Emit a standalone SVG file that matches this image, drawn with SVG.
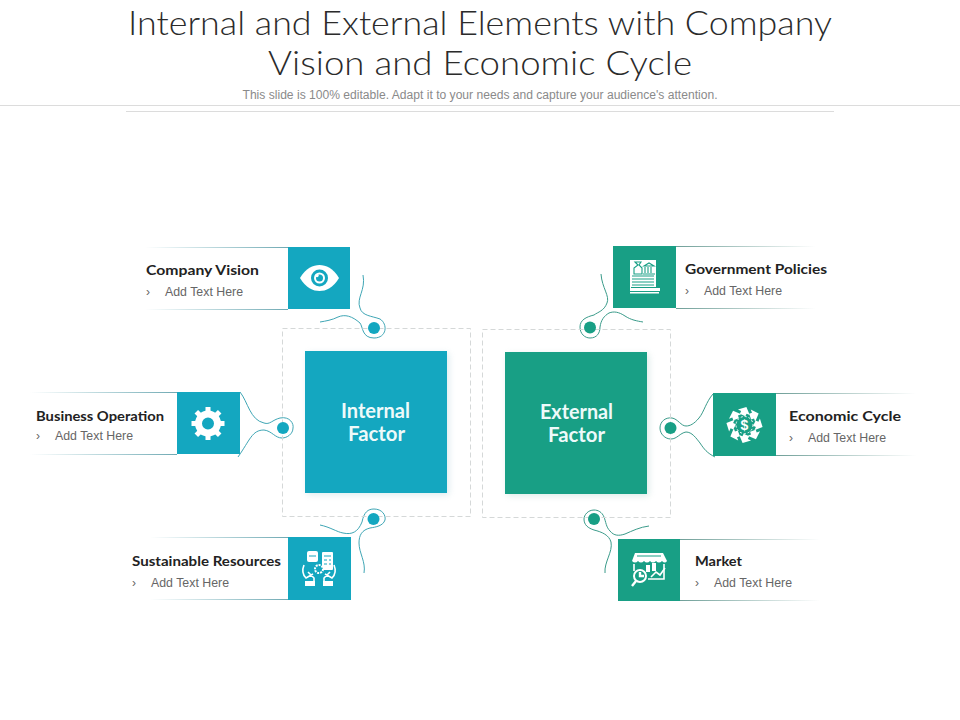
<svg xmlns="http://www.w3.org/2000/svg" width="960" height="720" viewBox="0 0 960 720">
<style>
.title{font-family:"Lato","Liberation Sans",sans-serif;font-weight:300;font-size:34px;fill:#2b2b2b;text-anchor:middle}
.sub{font-family:"Liberation Sans",Arial,sans-serif;font-size:12px;fill:#8a8a8a;text-anchor:middle}
.head{font-family:"Lato","Liberation Sans",sans-serif;font-weight:700;font-size:14px;fill:#222}
.body{font-family:"Liberation Sans",Arial,sans-serif;font-size:12px;fill:#666}
.factor{font-family:"Lato","Liberation Sans",sans-serif;font-weight:700;font-size:20px;fill:#eefafa;text-anchor:middle}
.dash{fill:none;stroke:#d5d8d8;stroke-width:1;stroke-dasharray:5 3}
.conn{fill:none;stroke-width:1}
.blue{stroke:#3fa6b5}.green{stroke:#3a9b8a}
.bf{fill:#14a7c0}.gf{fill:#189f85}
.ic{fill:#fff}
.il{fill:none;stroke:#fff;stroke-width:1.6}
</style>
<defs>
<linearGradient id="fadeL"><stop offset="0" stop-color="#6fb0ba" stop-opacity="0"/><stop offset="1" stop-color="#6fa9b3"/></linearGradient>
<linearGradient id="fadeR"><stop offset="0" stop-color="#6f9f98"/><stop offset="1" stop-color="#6f9f98" stop-opacity="0"/></linearGradient>
<filter id="sh" x="-10%" y="-10%" width="125%" height="125%"><feGaussianBlur stdDeviation="3"/></filter>
<path id="arrow" d="M744.500 406.500L751 412.500H747.500V415.500H741.500V412.500H738Z" transform="rotate(25 744.500 411)"/>
</defs>

<g id="header">
<text class="title" x="480" y="35" textLength="704" lengthAdjust="spacingAndGlyphs">Internal and External Elements with Company</text>
<text class="title" x="480" y="75" textLength="424" lengthAdjust="spacingAndGlyphs">Vision and Economic Cycle</text>
<text class="sub" x="480" y="99" textLength="475" lengthAdjust="spacingAndGlyphs">This slide is 100% editable. Adapt it to your needs and capture your audience's attention.</text>
<rect x="0" y="105" width="960" height="1" fill="#dcdcdc"/>
<rect x="126" y="111" width="708" height="1" fill="#dcdcdc"/>
</g>

<g id="connectors">
<path class="conn blue" d="M363 275C366 290 356 298 360 308C362 316 372 316 380 319C388 324 387 338 374 338C362 338 363 327 360 323C352 316 345 314 338 317C332 320 326 321 320 322"/>
<path class="conn blue" d="M240 392C248 402 250 420 264 423C270 425 272 420 280 418C290 416 294 424 293 428C293 434 287 438 282 438C275 438 272 431 264 430C252 430 250 440 238 457"/>
<path class="conn blue" d="M320 525C330 527 337 532 343 533C352 535 358 532 362 522C364 512 368 509 374 509C382 509 386 515 385 520C383 526 376 527 370 528C362 530 359 535 359 543C359 553 366 562 364 573"/>
<path class="conn green" d="M601 274C602 288 610 296 607 303C604 311 598 312 594 315C586 317 580 320 580 327C580 334 585 338 590 338C597 338 600 333 600 327C601 320 604 316 609 313C614 311 619 312 625 316C631 320 637 321 643 322"/>
<path class="conn green" d="M713 394C706 402 704 412 699 418C694 424 690 426 686 426C681 426 678 419 672 418C665 417 660 422 660 428C660 434 665 439 671 439C677 439 680 433 686 432C692 432 696 438 700 443C704 449 707 453 715 457"/>
<path class="conn green" d="M649 526C640 527 632 531 625 534C619 536 614 536 610 531C606 527 606 522 604 517C602 512 598 510 594 510C588 510 584 515 584 519C584 525 588 528 594 530C602 532 609 535 611 542C613 552 604 562 605 573"/>
</g>

<g id="internal-factor">
<rect class="dash" x="282.500" y="328.500" width="188" height="188"/>
<rect x="307" y="353" width="142" height="142" fill="#9fc9d1" opacity=".35" filter="url(#sh)"/>
<rect class="bf" x="305" y="351" width="142" height="142"/>
<text class="factor" x="375.500" y="418" textLength="69" lengthAdjust="spacingAndGlyphs">Internal</text>
<text class="factor" x="376.500" y="441" textLength="57" lengthAdjust="spacingAndGlyphs">Factor</text>
</g>

<g id="external-factor">
<rect class="dash" x="482.500" y="329.500" width="188" height="188"/>
<rect x="507" y="354" width="142" height="142" fill="#9fc9c1" opacity=".35" filter="url(#sh)"/>
<rect class="gf" x="505" y="352" width="142" height="142"/>
<text class="factor" x="576.500" y="419" textLength="73" lengthAdjust="spacingAndGlyphs">External</text>
<text class="factor" x="576.500" y="442" textLength="57" lengthAdjust="spacingAndGlyphs">Factor</text>
</g>

<g id="company-vision">
<rect x="145" y="247" width="143" height="1" fill="url(#fadeL)"/>
<rect x="145" y="309" width="143" height="1" fill="url(#fadeL)"/>
<rect class="bf" x="288" y="247" width="62" height="62"/>
<path class="ic" d="M300 278C306 268 313 265 319.500 265C326 265 333 268 339 278C333 288 326 291 319.500 291C313 291 306 288 300 278Z"/>
<circle cx="319.500" cy="278" r="8.500" fill="#14a7c0"/>
<circle cx="319.500" cy="278" r="5.500" class="ic"/>
<circle cx="319.500" cy="278" r="3.500" fill="#14a7c0"/>
<circle cx="317" cy="275.500" r="1.700" class="ic"/>
<text class="head" x="146" y="275" textLength="113" lengthAdjust="spacingAndGlyphs">Company Vision</text>
<text class="body" x="146" y="296">›</text>
<text class="body" x="165" y="296" textLength="78" lengthAdjust="spacingAndGlyphs">Add Text Here</text>
<circle class="bf" cx="374" cy="328" r="6"/>
</g>

<g id="business-operation">
<rect x="30" y="392" width="147" height="1" fill="url(#fadeL)"/>
<rect x="30" y="454" width="147" height="1" fill="url(#fadeL)"/>
<rect class="bf" x="177" y="392" width="63" height="62"/>
<circle cx="208" cy="423.500" r="9.500" fill="none" stroke="#fff" stroke-width="7"/>
<path class="il" style="stroke-width:5" d="M208 407V412M208 435V440M191.500 423.500H196.500M219.500 423.500H224.500M196.300 411.800L199.800 415.300M216.200 431.700L219.700 435.200M219.700 411.800L216.200 415.300M199.800 431.700L196.300 435.200"/>
<text class="head" x="36" y="421" textLength="128" lengthAdjust="spacingAndGlyphs">Business Operation</text>
<text class="body" x="36" y="440">›</text>
<text class="body" x="55" y="440" textLength="78" lengthAdjust="spacingAndGlyphs">Add Text Here</text>
<circle class="bf" cx="283" cy="428" r="6"/>
</g>

<g id="sustainable-resources">
<rect x="150" y="537" width="138" height="1" fill="url(#fadeL)"/>
<rect x="150" y="599" width="138" height="1" fill="url(#fadeL)"/>
<rect class="bf" x="288" y="537" width="63" height="63"/>
<rect class="ic" x="307" y="551" width="11" height="11" rx="2"/>
<rect class="ic" x="322" y="552" width="11" height="18" rx="1"/>
<path d="M309 556H316M324 556H331M324 560H327M324 564H327M329 560H331M329 564H331" stroke="#14a7c0" stroke-width="1.200" fill="none"/>
<circle cx="319" cy="569" r="4" fill="#14a7c0" stroke="#fff" stroke-width="2" stroke-dasharray="2 1"/>
<path class="il" d="M304 565C302 570 303 575 306 578L313 574M314 581V578L308 572M334 565C336 570 335 575 332 578L325 574M324 581V578L330 572"/>
<rect class="ic" x="305" y="581" width="10" height="5"/>
<rect class="ic" x="323" y="581" width="10" height="5"/>
<text class="head" x="132" y="566" textLength="149" lengthAdjust="spacingAndGlyphs">Sustainable Resources</text>
<text class="body" x="132" y="587">›</text>
<text class="body" x="151" y="587" textLength="78" lengthAdjust="spacingAndGlyphs">Add Text Here</text>
<circle class="bf" cx="373.500" cy="519" r="6"/>
</g>

<g id="government-policies">
<rect x="676" y="246" width="140" height="1" fill="url(#fadeR)"/>
<rect x="676" y="308" width="140" height="1" fill="url(#fadeR)"/>
<rect class="gf" x="613" y="246" width="63" height="62"/>
<rect class="ic" x="630" y="260" width="26" height="33"/>
<path d="M632 276H654M632 279H654M632 282H654M632 285H654M631 287.500H660" stroke="#189f85" stroke-width="1" fill="none"/>
<path d="M635 262L638 265L634 268V274H642V268L639 265L641 262ZM644 266L649 263L654 266ZM645 267V273M648 267V273M651 267V273M643 274H655" fill="none" stroke="#189f85" stroke-width="1.100"/>
<rect class="ic" x="631" y="288" width="29" height="3"/>
<rect x="630" y="291" width="30" height="1" fill="#189f85"/>
<rect class="ic" x="630" y="292" width="29" height="1.500"/>
<text class="head" x="685" y="274" textLength="142" lengthAdjust="spacingAndGlyphs">Government Policies</text>
<text class="body" x="685" y="295">›</text>
<text class="body" x="704" y="295" textLength="78" lengthAdjust="spacingAndGlyphs">Add Text Here</text>
<circle class="gf" cx="590" cy="327.500" r="6"/>
</g>

<g id="economic-cycle">
<rect x="776" y="393" width="140" height="1" fill="url(#fadeR)"/>
<rect x="776" y="455" width="140" height="1" fill="url(#fadeR)"/>
<rect class="gf" x="713" y="393" width="63" height="63"/>
<circle cx="744.500" cy="425" r="8.500" fill="none" stroke="#fff" stroke-width="1" stroke-dasharray="2 2"/>
<g class="ic">
<use href="#arrow"/>
<use href="#arrow" transform="rotate(45 744.500 425)"/>
<use href="#arrow" transform="rotate(90 744.500 425)"/>
<use href="#arrow" transform="rotate(135 744.500 425)"/>
<use href="#arrow" transform="rotate(180 744.500 425)"/>
<use href="#arrow" transform="rotate(225 744.500 425)"/>
<use href="#arrow" transform="rotate(270 744.500 425)"/>
<use href="#arrow" transform="rotate(315 744.500 425)"/>
</g>
<text x="744.500" y="430" text-anchor="middle" font-family="Liberation Sans,sans-serif" font-weight="700" font-size="14" fill="#fff">$</text>
<text class="head" x="789" y="421" textLength="112" lengthAdjust="spacingAndGlyphs">Economic Cycle</text>
<text class="body" x="789" y="442">›</text>
<text class="body" x="808" y="442" textLength="78" lengthAdjust="spacingAndGlyphs">Add Text Here</text>
<circle class="gf" cx="670.500" cy="428" r="6"/>
</g>

<g id="market">
<rect x="680" y="539" width="140" height="1" fill="url(#fadeR)"/>
<rect x="680" y="600" width="140" height="1" fill="url(#fadeR)"/>
<rect class="gf" x="618" y="539" width="62" height="62"/>
<path class="ic" d="M635 553H663L667 561Q665 564 662 561Q659 564 656 561Q653 564 650 561Q647 564 644 561Q641 564 638 561Q635 564 632 561Z"/>
<path d="M637 556H661" stroke="#189f85" stroke-width="1" fill="none"/>
<path class="il" d="M634 564V571M664 564V579H648"/>
<rect class="ic" x="646" y="565" width="4" height="7"/>
<rect class="ic" x="652" y="563" width="4" height="8"/>
<path class="il" d="M651 577L656 572L660 575L665 568"/>
<circle cx="640" cy="576" r="6" fill="none" stroke="#fff" stroke-width="2"/>
<path class="il" style="stroke-width:2.400" d="M636 581L632 586M640 572V576H644"/>
<text class="head" x="695" y="566" textLength="47" lengthAdjust="spacingAndGlyphs">Market</text>
<text class="body" x="695" y="587">›</text>
<text class="body" x="714" y="587" textLength="78" lengthAdjust="spacingAndGlyphs">Add Text Here</text>
<circle class="gf" cx="594" cy="519" r="6"/>
</g>
</svg>
